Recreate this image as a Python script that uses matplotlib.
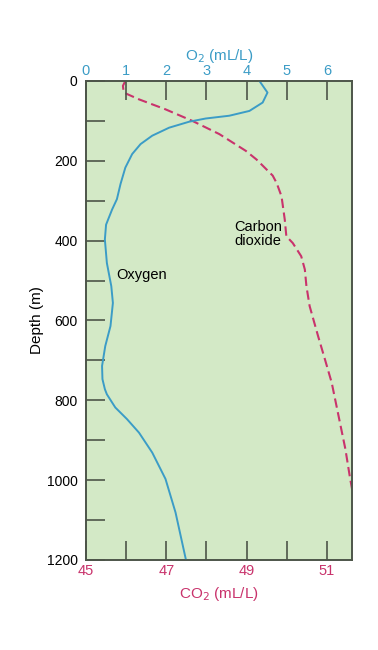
import matplotlib
matplotlib.use("Agg")
import matplotlib.pyplot as plt

plt.rcParams['font.family'] = ['Liberation Sans', 'DejaVu Sans']

# Oxygen profile (O2 in mL/L vs depth in m)
o2_depth = [0, 29, 54, 75, 87, 94, 102, 117, 137, 158, 183, 217, 258, 296, 322, 360,
            397, 456, 514, 556, 614, 664, 714, 747, 772, 785, 818, 847, 881, 931, 997,
            1081, 1200]
o2_values = [4.32, 4.52, 4.40, 4.07, 3.57, 2.98, 2.57, 2.07, 1.65, 1.36, 1.15, 0.98,
             0.86, 0.77, 0.65, 0.50, 0.47, 0.52, 0.63, 0.67, 0.61, 0.48, 0.40, 0.41,
             0.47, 0.52, 0.73, 1.02, 1.32, 1.65, 1.98, 2.23, 2.49]

# Carbon dioxide profile (CO2 in mL/L vs depth in m)
co2_depth = [0, 12, 29, 46, 71, 100, 133, 175, 197, 237, 256, 289, 347, 389, 406, 439,
             472, 514, 564, 639, 697, 756, 839, 922, 997, 1040]
co2_values = [45.98, 45.92, 45.94, 46.32, 46.98, 47.65, 48.32, 48.98, 49.25, 49.65,
              49.75, 49.87, 49.95, 49.99, 50.15, 50.36, 50.45, 50.49, 50.57, 50.78,
              50.95, 51.12, 51.29, 51.46, 51.58, 51.66]

depth_ticks = [0, 200, 400, 600, 800, 1000, 1200]
o2_ticks = [0, 1, 2, 3, 4, 5, 6]
co2_ticks = [45, 46, 47, 48, 49, 50, 51]
co2_labels = ['45', '', '47', '', '49', '', '51']

BLUE = '#3b9cc6'
MAGENTA = '#c9336c'
SPINE = '#4d5549'

fig = plt.figure(figsize=(3.78, 6.5), dpi=100)
ax = fig.add_axes([0.2275, 0.1385, 0.7037, 0.7369])
ax.set_facecolor('#d3e9c6')
ax2 = ax.twiny()

ax.plot(co2_values, co2_depth, color=MAGENTA, lw=1.5, dashes=(4.5, 2.2))
ax2.plot(o2_values, o2_depth, color=BLUE, lw=1.4)

ax.set_xlim(45, 51.625)
ax2.set_xlim(0, 6.625)
ax.set_ylim(1200, 0)

ax.set_yticks(depth_ticks)
ax.set_yticks(range(100, 1200, 100), minor=True)
ax.set_xticks(co2_ticks)
ax.set_xticklabels(co2_labels)
ax2.set_xticks(o2_ticks)

ax.tick_params(axis='y', which='both', direction='in', length=14, width=1.2,
               color=SPINE, labelsize=10, pad=6)
ax.tick_params(axis='x', direction='in', length=14, width=1.2, color=SPINE,
               labelsize=10.5, labelcolor=MAGENTA, pad=3)
ax2.tick_params(axis='x', direction='in', length=14, width=1.2, color=SPINE,
                labelsize=10.5, labelcolor=BLUE, pad=2)

for a in (ax, ax2):
    for s in a.spines.values():
        s.set_color(SPINE)
        s.set_linewidth(1.2)

ax.set_ylabel('Depth (m)', fontsize=11, labelpad=2)
ax.set_xlabel('CO$_2$ (mL/L)', fontsize=11, color=MAGENTA, labelpad=5)
ax2.set_xlabel('O$_2$ (mL/L)', fontsize=11, color=BLUE, labelpad=3)

ax2.text(0.76, 485, 'Oxygen', fontsize=10.5, ha='left', va='center')
ax2.text(4.28, 383, 'Carbon\ndioxide', fontsize=10.5, ha='center', va='center',
         multialignment='center', linespacing=1.0)

fig.savefig('out.png', dpi=100)
